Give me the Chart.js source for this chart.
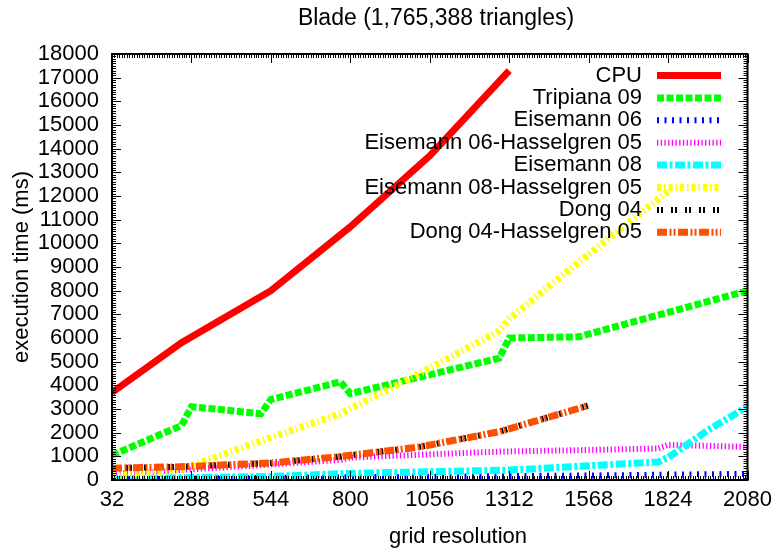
<!DOCTYPE html>
<html lang="en">
<head>
<meta charset="UTF-8">
<title>Blade (1,765,388 triangles)</title>
<script src="https://cdn.jsdelivr.net/npm/chart.js"></script>
<style>
  html, body { margin: 0; padding: 0; background: #fff; }
  #wrap { width: 779px; height: 552px; }
</style>
</head>
<body>
<div id="wrap"><canvas id="bladeChart"></canvas></div>
<script>
// tick labels
const xTicks = [32, 288, 544, 800, 1056, 1312, 1568, 1824, 2080];
const yTicks = [0, 1000, 2000, 3000, 4000, 5000, 6000, 7000, 8000, 9000,
                10000, 11000, 12000, 13000, 14000, 15000, 16000, 17000, 18000];

// series names (key order)
const seriesNames = ['CPU', 'Tripiana 09', 'Eisemann 06', 'Eisemann 06-Hasselgren 05',
                     'Eisemann 08', 'Eisemann 08-Hasselgren 05', 'Dong 04', 'Dong 04-Hasselgren 05'];

// grid resolution / execution time (ms)
const cpuRes = [32, 256, 544, 800, 1056, 1312];
const cpuMs  = [3700, 5800, 8000, 10700, 13700, 17300];

const tripianaRes = [32, 256, 288, 512, 544, 768, 800, 1280, 1312, 1536, 2080];
const tripianaMs  = [1050, 2300, 3100, 2800, 3400, 4150, 3650, 5150, 6000, 6050, 8000];

const eis06Res = [32, 544, 1056, 1568, 2080];
const eis06Ms  = [30, 90, 140, 190, 260];

const eis06HasRes = [32, 288, 544, 768, 800, 1280, 1536, 1792, 1824, 2080];
const eis06HasMs  = [250, 450, 650, 850, 950, 1200, 1260, 1330, 1480, 1400];

const eis08Res = [32, 544, 800, 1312, 1568, 1792, 1824, 1952, 2080];
const eis08Ms  = [50, 150, 280, 420, 600, 760, 950, 2100, 3100];

const eis08HasRes = [32, 256, 512, 768, 1024, 1280, 1312, 1536, 1824];
const eis08HasMs  = [150, 450, 1650, 2800, 4500, 6300, 6800, 9200, 12200];

const dongRes = [32, 256, 544, 768, 1024, 1280, 1568];
const dongMs  = [500, 560, 720, 990, 1400, 2040, 3150];

const dongHasRes = [32, 256, 544, 768, 1024, 1280, 1568];
const dongHasMs  = [500, 560, 720, 990, 1400, 2040, 3150];

const allRes = [cpuRes, tripianaRes, eis06Res, eis06HasRes, eis08Res, eis08HasRes, dongRes, dongHasRes];
const allMs  = [cpuMs, tripianaMs, eis06Ms, eis06HasMs, eis08Ms, eis08HasMs, dongMs, dongHasMs];

// gnuplot-like line styles
const colors = ['#ff0000', '#00ff00', '#0000ff', '#ff00ff', '#00ffff', '#ffff00', '#000000', '#ff4f00'];
const dashes = [[], [7, 2.5], [2, 5.5], [1.3, 2.4], [10, 2.5, 3, 2.5], [4, 3, 1.5, 3], [2, 2, 2, 8], [10, 2.5, 2, 2, 2, 2.5]];
const widths = [7, 7, 6, 6, 7, 7, 6, 7];

const FONT = "'Liberation Sans', Arial, sans-serif";
const FONT_SIZE = 22;

const datasets = seriesNames.map((name, i) => ({
  label: name,
  data: allRes[i].map((r, k) => ({ x: r, y: allMs[i][k] })),
  borderColor: colors[i],
  backgroundColor: colors[i],
  borderWidth: widths[i],
  borderDash: dashes[i],
  borderCapStyle: 'butt',
  borderJoinStyle: 'miter',
  pointRadius: 0,
  tension: 0,
  fill: false,
  order: seriesNames.length - i // later series on top, like gnuplot
}));

// title and x label placed where gnuplot put them
const plotTexts = {
  id: 'plotTexts',
  afterDraw(chart) {
    const { ctx } = chart;
    ctx.save();
    ctx.fillStyle = '#000';
    ctx.textAlign = 'center';
    ctx.textBaseline = 'middle';
    ctx.font = '23px ' + FONT;
    ctx.fillText('Blade (1,765,388 triangles)', 436, 19);
    ctx.font = FONT_SIZE + 'px ' + FONT;
    ctx.fillText('grid resolution', 458, 537);
    ctx.restore();
  }
};

// border box + inward major/minor ticks on all four sides
const frameTicks = {
  id: 'frameTicks',
  afterDatasetsDraw(chart) {
    const { ctx, chartArea: a, scales: { x, y } } = chart;
    ctx.save();
    ctx.strokeStyle = '#000';
    ctx.lineWidth = 1;
    ctx.beginPath();
    for (let v = xTicks[0]; v <= xTicks[xTicks.length - 1]; v += 8) {
      const px = Math.round(x.getPixelForValue(v)) + 0.5;
      const len = (v - 32) % 256 === 0 ? 9 : 4;
      ctx.moveTo(px, a.bottom); ctx.lineTo(px, a.bottom - len);
      ctx.moveTo(px, a.top); ctx.lineTo(px, a.top + len);
    }
    for (let v = 0; v <= 18000; v += 100) {
      const py = Math.round(y.getPixelForValue(v)) + 0.5;
      const len = v % 1000 === 0 ? 9 : 4;
      ctx.moveTo(a.left, py); ctx.lineTo(a.left + len, py);
      ctx.moveTo(a.right, py); ctx.lineTo(a.right - len, py);
    }
    ctx.stroke();
    ctx.lineWidth = 2;
    ctx.strokeRect(a.left, a.top, a.right - a.left, a.bottom - a.top);
    ctx.restore();
  }
};

// key in the top right: right-aligned text, then a line sample
const gnuKey = {
  id: 'gnuKey',
  afterDatasetsDraw(chart) {
    const { ctx } = chart;
    ctx.save();
    ctx.font = FONT_SIZE + 'px ' + FONT;
    ctx.fillStyle = '#000';
    ctx.textAlign = 'right';
    ctx.textBaseline = 'middle';
    chart.data.datasets.forEach((ds, i) => {
      const yy = 75.5 + i * 22.4;
      ctx.fillText(ds.label, 642, yy);
      ctx.beginPath();
      ctx.strokeStyle = ds.borderColor;
      ctx.lineWidth = ds.borderWidth;
      ctx.lineCap = 'butt';
      ctx.setLineDash(ds.borderDash);
      ctx.moveTo(657, yy);
      ctx.lineTo(721, yy);
      ctx.stroke();
      ctx.setLineDash([]);
    });
    ctx.restore();
  }
};

new Chart(document.getElementById('bladeChart'), {
  type: 'line',
  data: { datasets },
  options: {
    responsive: true,
    maintainAspectRatio: false,
    animation: false,
    devicePixelRatio: 1,
    layout: { padding: { left: 0, right: 31, top: 54, bottom: 0 } },
    plugins: {
      legend: { display: false },
      tooltip: { enabled: false },
      title: { display: false }
    },
    scales: {
      x: {
        type: 'linear',
        min: 32,
        max: 2080,
        afterBuildTicks: s => { s.ticks = xTicks.map(v => ({ value: v })); },
        afterFit: s => { s.height = 72; },
        grid: { display: false, drawTicks: false },
        border: { display: false },
        ticks: {
          color: '#000', padding: 7, maxRotation: 0, autoSkip: false,
          font: { family: FONT, size: FONT_SIZE },
          callback: v => String(v)
        },
        title: { display: false }
      },
      y: {
        min: 0,
        max: 18000,
        afterBuildTicks: s => { s.ticks = yTicks.map(v => ({ value: v })); },
        afterFit: s => { s.width = 112; },
        grid: { display: false, drawTicks: false },
        border: { display: false },
        ticks: {
          color: '#000', padding: 13, autoSkip: false,
          font: { family: FONT, size: FONT_SIZE },
          callback: v => String(v)
        },
        title: { display: true, text: 'execution time (ms)', color: '#000', padding: { top: 9, bottom: 0 }, font: { family: FONT, size: FONT_SIZE } }
      }
    }
  },
  plugins: [frameTicks, gnuKey, plotTexts]
});
</script>
</body>
</html>
